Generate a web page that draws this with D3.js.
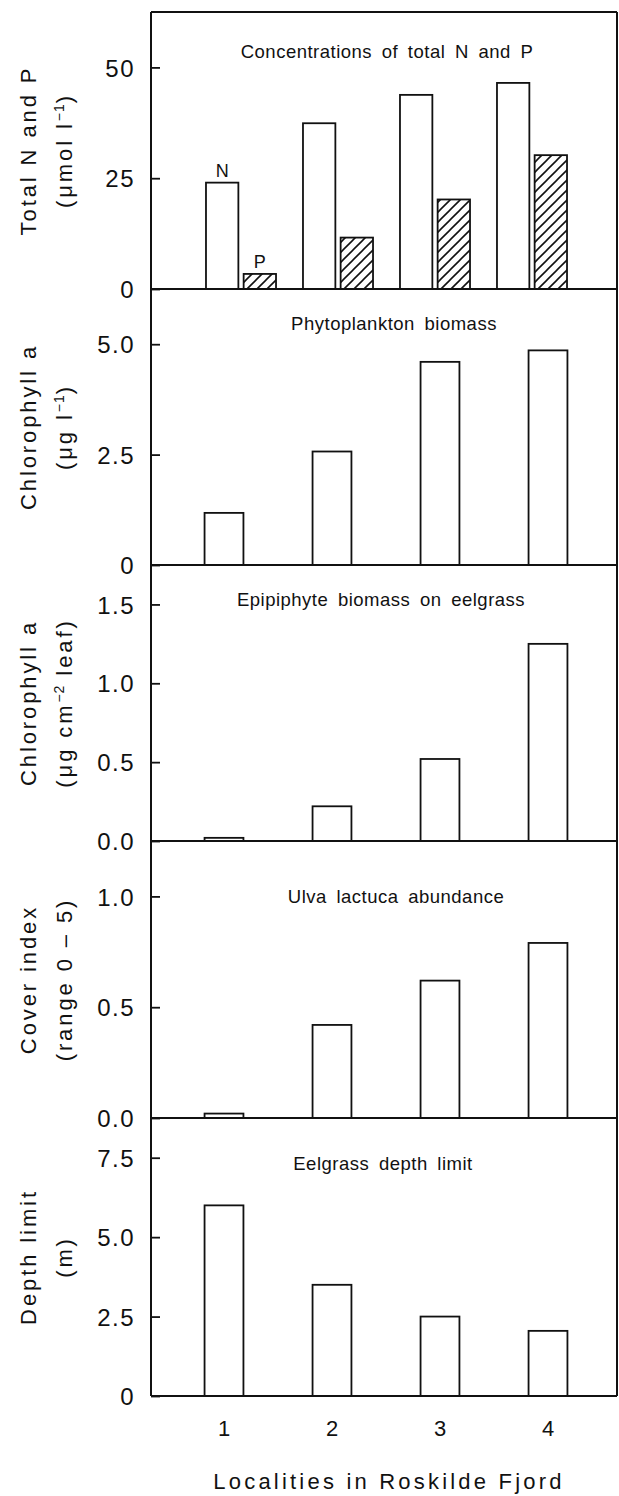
<!DOCTYPE html>
<meta charset="utf-8">
<head>
	<style>
		body { margin: 0; background: #fff; }
		text { font-family: "Liberation Sans", Arial, sans-serif; fill: #111; }
		.tick line { stroke: #111; stroke-width: 1.8; }
		.bar { stroke: #111; stroke-width: 1.8; }
	</style>
	<script src="https://cdn.jsdelivr.net/npm/d3@7"></script>
</head>
<body>
</body>
<script>

	// values
	var locations = ["1", "2", "3", "4"];
	var nitrogen = [24.0, 37.4, 43.8, 46.5];
	var phosphorus = [3.4, 11.6, 20.2, 30.2];
	var phytoChl = [1.18, 2.57, 4.60, 4.86];
	var epiphyteChl = [0.02, 0.22, 0.52, 1.25];
	var ulvaCover = [0.02, 0.42, 0.62, 0.79];
	var depthLimit = [6.0, 3.5, 2.5, 2.05];

	var titles = ["Concentrations of total N and P", "Phytoplankton biomass",
		"Epipiphyte biomass on eelgrass", "Ulva lactuca abundance", "Eelgrass depth limit"];
	var yMax = [62.5, 6.25, 1.75, 1.25, 8.75];
	var tickVals = [[0, 25, 50], [0, 2.5, 5], [0, 0.5, 1, 1.5], [0, 0.5, 1], [0, 2.5, 5, 7.5]];
	var tickLabels = [["0", "25", "50"], ["0", "2.5", "5.0"], ["0.0", "0.5", "1.0", "1.5"],
		["0.0", "0.5", "1.0"], ["0", "2.5", "5.0", "7.5"]];
	// y labels: line 1, then line 2 as parts [text, superscript?]
	var yLabels = [
		["Total N and P", [["(\u03bcmol l"], ["\u22121", 1], [")"]]],
		["Chlorophyll a", [["(\u03bcg l"], ["\u22121", 1], [")"]]],
		["Chlorophyll a", [["(\u03bcg cm"], ["\u22122", 1], [" leaf)"]]],
		["Cover index", [["(range 0 \u2013 5)"]]],
		["Depth limit", [["(m)"]]]
	];
	var xLabel = "Localities in Roskilde Fjord";
	var seriesSingle = [null, phytoChl, epiphyteChl, ulvaCover, depthLimit];

	// layout
	var width = 619, height = 1496;
	var left = 151, right = 617;
	var tops = [12, 289, 565, 841, 1118], bottom = 1396;
	var titleDy = [46, 41, 41, 62, 52];
	var titleX = [387, 394, 381, 396, 383];

	var svg = d3.select("body").append("svg")
		.attr("width", width)
		.attr("height", height);

	svg.append("defs").append("pattern")
		.attr("id", "hatch")
		.attr("patternUnits", "userSpaceOnUse")
		.attr("width", 10).attr("height", 10)
		.append("path")
		.attr("d", "M0,10L10,0M-2.5,2.5L2.5,-2.5M7.5,12.5L12.5,7.5")
		.style("stroke", "#111").style("stroke-width", 1.6);

	var x = d3.scaleBand().domain(locations).range([170, 602])
		.paddingInner(0.64).paddingOuter(0.32);

	var xGroup = d3.scaleBand().domain(locations).range([170, 603])
		.paddingInner(0.278).paddingOuter(0.371);
	var xSub = d3.scaleBand().domain(["N", "P"]).range([0, xGroup.bandwidth()])
		.paddingInner(0.14);

	tops.forEach(function(top, i) {
		var bot = i < 4 ? tops[i + 1] : bottom;
		var y = d3.scaleLinear().domain([0, yMax[i]]).range([bot, top]);
		var g = svg.append("g");

		g.append("g")
			.attr("transform", "translate(" + left + ",0)")
			.call(d3.axisLeft(y).tickValues(tickVals[i])
				.tickFormat(function(d, j) { return tickLabels[i][j]; })
				.tickSizeInner(-9).tickSizeOuter(0).tickPadding(16))
			.call(function(a) {
				a.select(".domain").remove();
				a.selectAll("text")
					.style("font-size", "24px")
					.style("letter-spacing", "1.5px")
					.style("font-family", "Liberation Sans, Arial, sans-serif")
					.attr("dy", "0.36em");
			});

		if (i == 0) {
			var rows = locations.map(function(l, j) { return {loc: l, N: nitrogen[j], P: phosphorus[j]}; });
			var grp = g.selectAll(".grp").data(rows).enter().append("g")
				.attr("transform", function(d) { return "translate(" + xGroup(d.loc) + ",0)"; });
			grp.selectAll("rect").data(function(d) { return [["N", d.N], ["P", d.P]]; })
				.enter().append("rect")
				.attr("class", "bar")
				.attr("x", function(d) { return xSub(d[0]); })
				.attr("width", xSub.bandwidth())
				.attr("y", function(d) { return y(d[1]); })
				.attr("height", function(d) { return y(0) - y(d[1]); })
				.style("fill", function(d) { return d[0] == "P" ? "url(#hatch)" : "#fff"; });
			grp.filter(function(d, j) { return j == 0; })
				.selectAll(".lab").data(function(d) { return [["N", d.N], ["P", d.P]]; })
				.enter().append("text")
				.attr("x", function(d) { return xSub(d[0]) + xSub.bandwidth() / 2; })
				.attr("y", function(d) { return y(d[1]) - 6; })
				.attr("text-anchor", "middle")
				.style("font-size", "18px")
				.text(function(d) { return d[0]; });
		} else {
			g.selectAll("rect").data(seriesSingle[i]).enter().append("rect")
				.attr("class", "bar")
				.attr("x", function(d, j) { return x(locations[j]); })
				.attr("width", x.bandwidth())
				.attr("y", function(d) { return y(d); })
				.attr("height", function(d) { return y(0) - y(d); })
				.style("fill", "#fff");
		}

		// baseline of panel
		g.append("line")
			.attr("x1", left).attr("x2", right)
			.attr("y1", bot).attr("y2", bot)
			.style("stroke", "#111").style("stroke-width", 2);

		g.append("text")
			.attr("x", titleX[i]).attr("y", top + titleDy[i])
			.attr("text-anchor", "middle")
			.style("font-size", "18.5px")
			.style("letter-spacing", "0.5px")
			.style("word-spacing", "4px")
			.text(titles[i]);

		var cy = (top + bot) / 2;
		var lab = g.append("g").attr("transform", "translate(0," + cy + ")rotate(-90)");
		lab.append("text")
			.attr("x", 0).attr("y", 36)
			.attr("text-anchor", "middle")
			.style("font-size", "22px")
			.style("letter-spacing", "2.9px")
			.text(yLabels[i][0]);
		var t2 = lab.append("text")
			.attr("x", 0).attr("y", 72)
			.attr("text-anchor", "middle")
			.style("font-size", "22px")
			.style("letter-spacing", "2.9px");
		yLabels[i][1].forEach(function(p) {
			var s = t2.append("tspan").text(p[0]);
			if (p[1]) s.attr("baseline-shift", "super").style("font-size", "14px").style("letter-spacing", "1px");
		});
	});

	// frame
	svg.append("line").attr("x1", left).attr("x2", left).attr("y1", tops[0]).attr("y2", bottom)
		.style("stroke", "#111").style("stroke-width", 2);
	svg.append("line").attr("x1", right).attr("x2", right).attr("y1", tops[0]).attr("y2", bottom)
		.style("stroke", "#111").style("stroke-width", 2);
	svg.append("line").attr("x1", left).attr("x2", right).attr("y1", tops[0]).attr("y2", tops[0])
		.style("stroke", "#111").style("stroke-width", 2);

	// x axis labels
	svg.append("g").selectAll("text").data(locations).enter().append("text")
		.attr("x", function(d) { return x(d) + x.bandwidth() / 2; })
		.attr("y", 1436)
		.attr("text-anchor", "middle")
		.style("font-size", "22px")
		.text(function(d) { return d; });

	svg.append("text")
		.attr("x", 389).attr("y", 1489)
		.attr("text-anchor", "middle")
		.style("font-size", "22px")
		.style("letter-spacing", "3.2px")
		.text(xLabel);

</script>
